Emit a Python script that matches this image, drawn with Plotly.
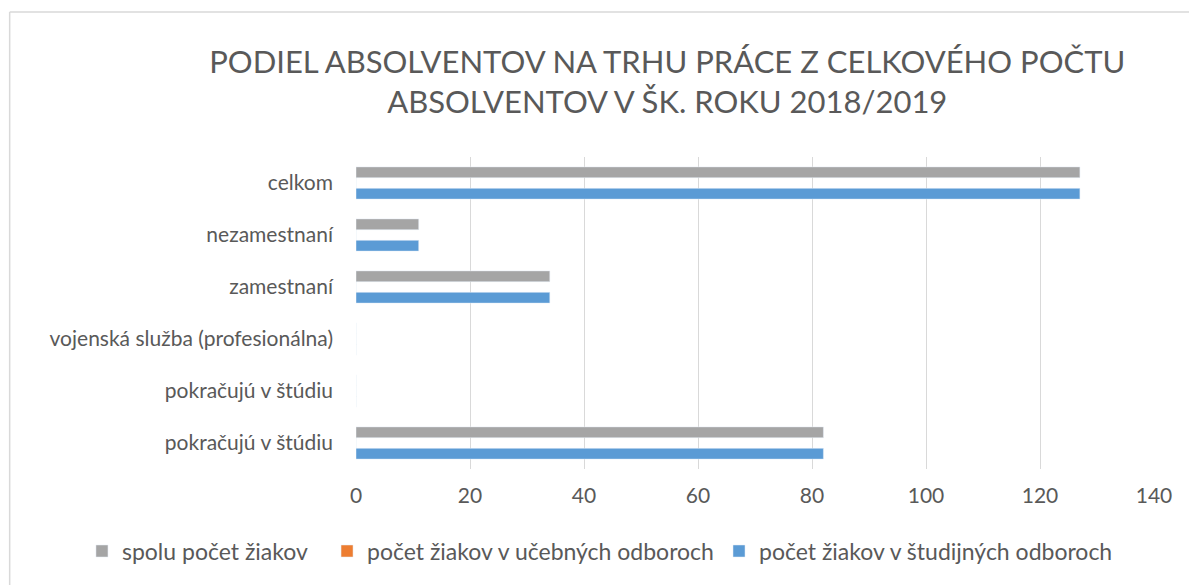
import plotly.graph_objects as go

categories = ["pokračujú v štúdiu", "pokračujú v štúdiu", "vojenská služba (profesionálna)",
              "zamestnaní", "nezamestnaní", "celkom"]
spolu = [82, 0, 0, 34, 11, 127]
ucebne = [0, 0, 0, 0, 0, 0]
studijne = [82, 0, 0, 34, 11, 127]
x_ticks = [0, 20, 40, 60, 80, 100, 120, 140]

pos = list(range(len(categories)))
FONT = "Lato"
TXT = "#595959"

fig = go.Figure()
fig.add_trace(go.Bar(y=pos, x=studijne, orientation="h", name="počet žiakov v študijných odboroch",
                     marker_color="#5B9BD5", legend="legend3"))
fig.add_trace(go.Bar(y=pos, x=ucebne, orientation="h", name="počet žiakov v učebných odboroch",
                     marker_color="#ED7D31", legend="legend2"))
fig.add_trace(go.Bar(y=pos, x=spolu, orientation="h", name="spolu počet žiakov",
                     marker_color="#A5A5A5", legend="legend"))

leg_common = dict(orientation="h", xanchor="left", y=-0.263, yanchor="middle",
                  font=dict(family=FONT, size=23, color=TXT), itemwidth=30,
                  bgcolor="rgba(0,0,0,0)")

fig.update_layout(
    width=1189, height=585,
    margin=dict(l=356, r=35, t=157, b=116),
    paper_bgcolor="white", plot_bgcolor="white",
    barmode="group", bargap=0.38, bargroupgap=0,
    font=dict(family=FONT, color=TXT, size=21),
    title=dict(text="PODIEL ABSOLVENTOV NA TRHU PRÁCE Z CELKOVÉHO POČTU<br>ABSOLVENTOV V ŠK. ROKU 2018/2019",
               x=0.5612, xanchor="center", y=0.876, yanchor="middle",
               font=dict(family=FONT, size=31, color=TXT)),
    xaxis=dict(range=[0, 140], tickvals=x_ticks, showgrid=True, gridcolor="#D9D9D9", gridwidth=1,
               zeroline=False, showline=False, ticklabelstandoff=12,
               tickfont=dict(family=FONT, size=21, color=TXT), fixedrange=True),
    yaxis=dict(range=[-0.5, 5.5], tickvals=pos, ticktext=categories, showgrid=False,
               zeroline=False, showline=False, ticklabelstandoff=22,
               tickfont=dict(family=FONT, size=21, color=TXT), fixedrange=True),
    legend=dict(x=-0.3434, **leg_common),
    legend2=dict(x=-0.0363, **leg_common),
    legend3=dict(x=0.4549, **leg_common),
    showlegend=True,
)

# chart frame (left and top border)
fig.add_shape(type="line", xref="paper", yref="paper", x0=-0.434, x1=-0.434, y0=-0.4, y1=1.465,
              line=dict(color="#D9D9D9", width=1.5))
fig.add_shape(type="line", xref="paper", yref="paper", x0=-0.434, x1=1.05, y0=1.465, y1=1.465,
              line=dict(color="#D9D9D9", width=1.5))

fig.write_html("out.html", config={"displayModeBar": False},
               post_script="document.body.style.margin='0';")
